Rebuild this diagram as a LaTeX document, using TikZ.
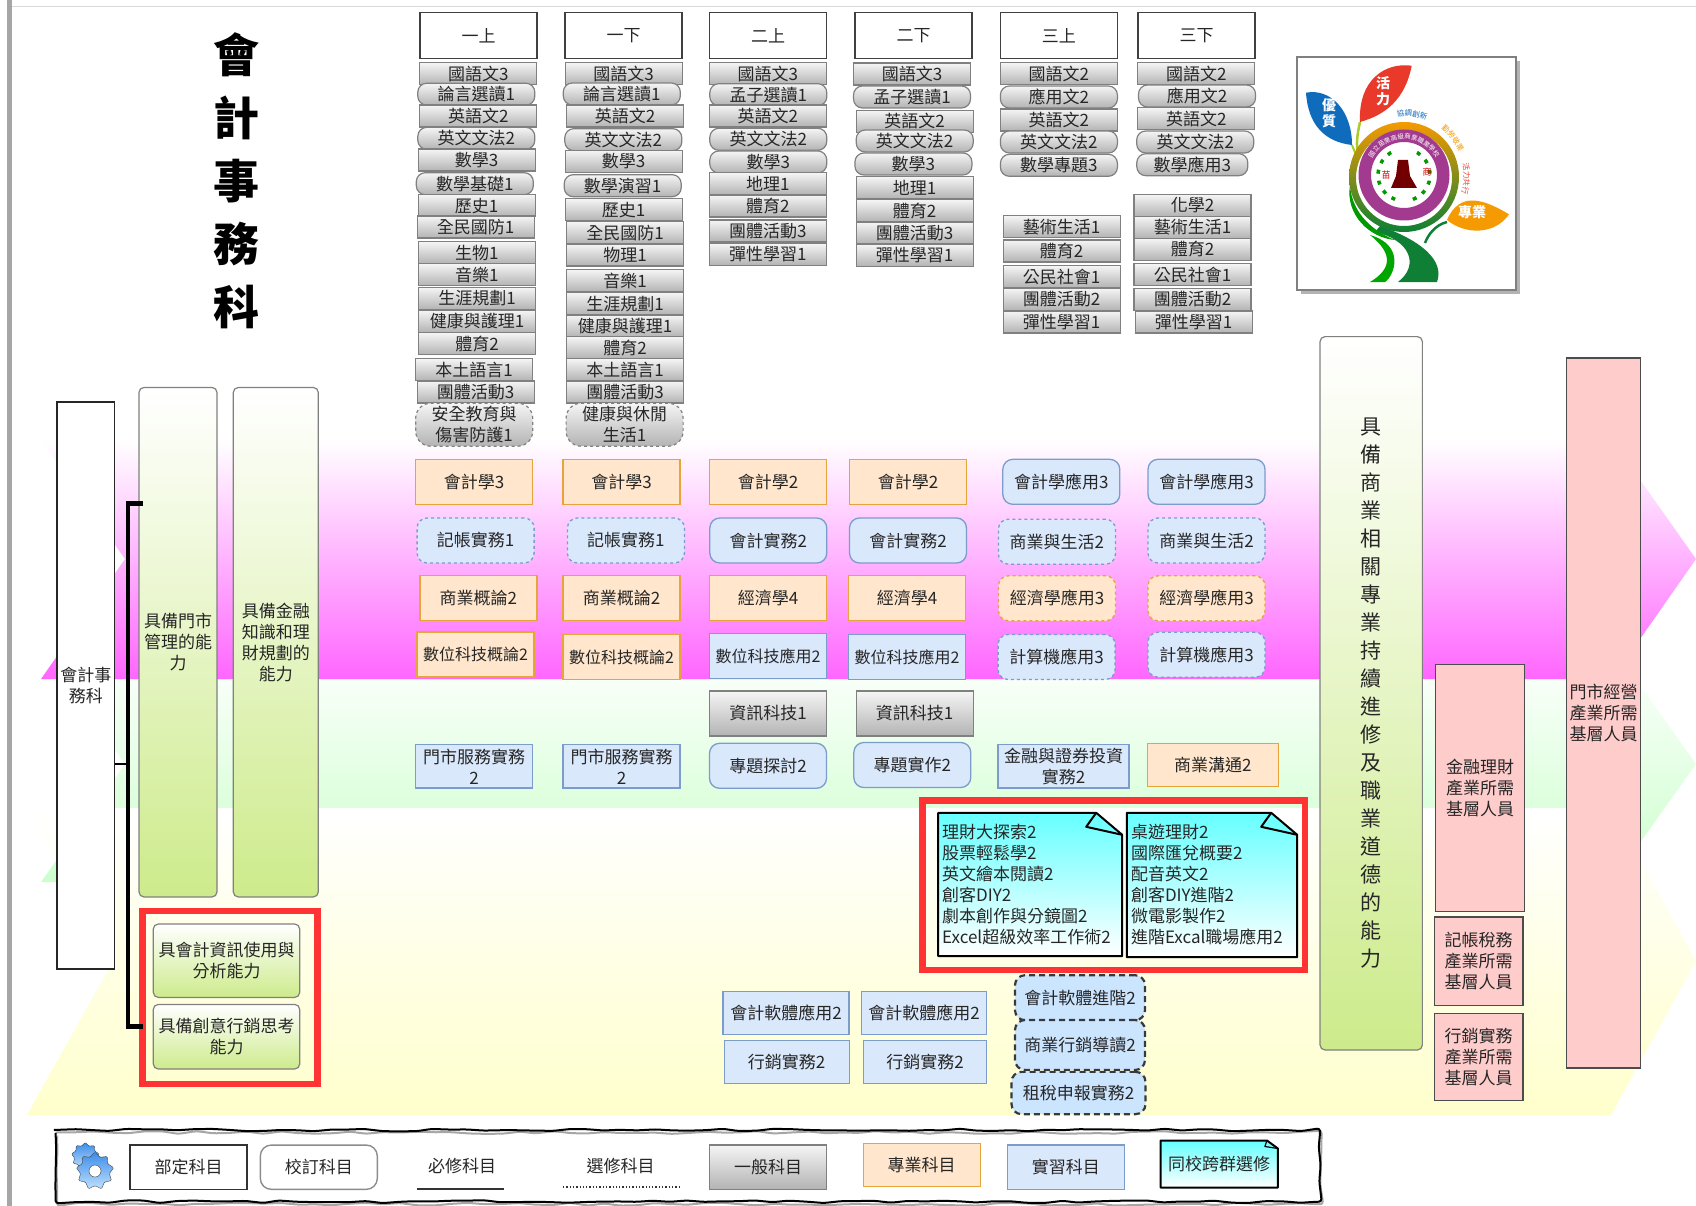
\documentclass[tikz,border=0pt]{standalone}
\usepackage{fontspec}
\setmainfont{Noto Sans CJK TC}
\usepackage{tikz}
\usetikzlibrary{calc}
\usetikzlibrary{shadows}
\usetikzlibrary{shapes.geometric}
\usetikzlibrary{decorations.pathmorphing}
\usetikzlibrary{decorations.text}
\definecolor{grayline}{HTML}{808080}
\definecolor{graytop}{HTML}{F5F5F5}
\definecolor{graybot}{HTML}{B3B3B3}
\definecolor{specfill}{HTML}{FFE6CC}
\definecolor{specline}{HTML}{E6A43A}
\definecolor{pracfill}{HTML}{DAE8FC}
\definecolor{pracline}{HTML}{7C9CCB}
\definecolor{heavyfill}{HTML}{CCE5FF}
\definecolor{heavyline}{HTML}{36393D}
\definecolor{abilitybot}{HTML}{CDEB8B}
\definecolor{pinkfill}{HTML}{FFCCCC}
\definecolor{notetop}{HTML}{66FFFF}
\definecolor{redline}{HTML}{FF3333}
\definecolor{bandpink}{HTML}{FF66FF}
\definecolor{logoblue}{HTML}{0F6CBD}
\definecolor{logored}{HTML}{E8392A}
\definecolor{logoorange}{HTML}{F59A00}
\definecolor{logopurple}{HTML}{A23B8F}
\definecolor{logogreen}{HTML}{0E7F35}
\definecolor{gearblue}{HTML}{3C8CE8}
\definecolor{gearpale}{HTML}{BFE0FF}
\newcommand{\subjfont}{\fontsize{17}{21}\selectfont}
\newcommand{\logotiny}{\fontsize{7.5}{8}\selectfont}
\tikzset{subject/.style={inner sep=0, minimum width=117pt, minimum height=22pt, align=center, font=\subjfont, text=black!85}}
\tikzset{tall/.style={minimum height=45pt}}
\tikzset{term/.style={subject, draw=black!75, line width=1.3pt, minimum height=46pt}}
\tikzset{general/.style={subject, draw=grayline, line width=1.2pt, top color=graytop, bottom color=graybot}}
\tikzset{generalpill/.style={general, rounded corners=9pt}}
\tikzset{generaldash/.style={generalpill, rounded corners=15pt, dashed, minimum height=43pt}}
\tikzset{special/.style={subject, tall, draw=specline, line width=1.3pt, fill=specfill}}
\tikzset{specialdash/.style={special, rounded corners=10pt, dashed}}
\tikzset{practice/.style={subject, tall, draw=pracline, line width=1.3pt, fill=pracfill}}
\tikzset{practicepill/.style={practice, rounded corners=10pt}}
\tikzset{practicedash/.style={practicepill, dashed}}
\tikzset{heavydash/.style={subject, draw=heavyline, line width=2.2pt, dash pattern=on 6pt off 4pt, fill=heavyfill, rounded corners=10pt, minimum width=130pt}}
\tikzset{ability/.style={subject, draw=grayline, line width=1.2pt, top color=white, bottom color=abilitybot, rounded corners=5pt}}
\tikzset{market/.style={subject, draw=black!70, line width=1.2pt, fill=pinkfill}}
\tikzset{redframe/.style={inner sep=0, draw=redline, line width=6.5pt}}
\tikzset{note/.style={subject, align=left, draw=none, top color=notetop, bottom color=white}}
\tikzset{notefold/.style={draw=black, line width=2pt, line join=round}}
\tikzset{gear/.style={inner sep=0, star, star points=9, star point ratio=1.3, draw=black!75, top color=gearblue, bottom color=gearpale, rounded corners=1pt}}
\tikzset{tornedge/.style={decorate, decoration={random steps, segment length=17pt, amplitude=1.4pt}, rounded corners=3pt, line width=2pt}}
\pgfmathsetseed{7}

\begin{document}
\begin{tikzpicture}[x=1pt, y=-1pt]
  \useasboundingbox (0, 0) rectangle (1696, 1206);

  % bands behind the plan
  \shade[top color=white, bottom color=green!20] (41, 646) -- (1612, 646) -- (1696, 764) -- (1612, 882) -- (41, 882) -- (125, 764) -- cycle;
  \shade[top color=white, bottom color=yellow!20] (27, 808) -- (1612, 808) -- (1696, 961) -- (1611, 1115) -- (27, 1115) -- (113, 961) -- cycle;
  \shade[top color=white, bottom color=bandpink] (41, 440) -- (1612, 440) -- (1696, 559) -- (1612, 679) -- (41, 679) -- (125, 559) -- cycle;
  \fill[black!35] (7.3, 0) rectangle (12, 1206);
  \fill[black!15] (12, 6.5) rectangle (1696, 7.5);

  \node[inner sep=0, font=\fontsize{46}{63}\selectfont\bfseries, align=center] at (236, 181) (title) {會\\計\\事\\務\\科};

  % terms
  \node[term] at (478.5, 35.7) (oneup) {一上};
  \node[term] at (623.5, 35.7) (onedown) {一下};
  \node[term] at (768, 35.7) (twoup) {二上};
  \node[term] at (913.5, 35.7) (twodown) {二下};
  \node[term] at (1058.8, 35.7) (threeup) {三上};
  \node[term] at (1196.5, 35.7) (threedown) {三下};

  % column one up
  \node[general] at (478.3, 73.8) (oneupa) {國語文3};
  \node[generalpill] at (476.3, 94.2) (oneupb) {論言選讀1};
  \node[general] at (478.3, 116) (oneupc) {英語文2};
  \node[generalpill] at (476.3, 138.3) (oneupd) {英文文法2};
  \node[general] at (476.7, 160) (oneupe) {數學3};
  \node[generalpill] at (474.8, 183.7) (oneupf) {數學基礎1};
  \node[general] at (476.7, 205.7) (oneupg) {歷史1};
  \node[general] at (475.6, 227) (oneuph) {全民國防1};
  \node[general] at (476.9, 252.7) (oneupi) {生物1};
  \node[general] at (476.9, 274.7) (oneupj) {音樂1};
  \node[general] at (477.1, 298.3) (oneupk) {生涯規劃1};
  \node[general] at (477.1, 321.3) (oneupl) {健康與護理1};
  \node[general] at (477, 343.7) (oneupm) {體育2};
  \node[general] at (474, 369.7) (oneupn) {本土語言1};
  \node[general] at (475.6, 392) (oneupo) {團體活動3};
  \node[generaldash] at (474.2, 424.7) (oneupp) {安全教育與\\傷害防護1};

  % column one down
  \node[general] at (623.7, 73.8) (onedowna) {國語文3};
  \node[generalpill] at (621.8, 94) (onedownb) {論言選讀1};
  \node[general] at (625.2, 116) (onedownc) {英語文2};
  \node[generalpill] at (623.3, 139.7) (onedownd) {英文文法2};
  \node[general] at (623.7, 161.3) (onedowne) {數學3};
  \node[generalpill] at (622.7, 185.7) (onedownf) {數學演習1};
  \node[general] at (623.7, 209.7) (onedowng) {歷史1};
  \node[general] at (625.2, 232.7) (onedownh) {全民國防1};
  \node[general] at (625.2, 255) (onedowni) {物理1};
  \node[general] at (625.2, 280.7) (onedownj) {音樂1};
  \node[general] at (625.2, 303.7) (onedownk) {生涯規劃1};
  \node[general] at (625.2, 326) (onedownl) {健康與護理1};
  \node[general] at (625.2, 347.7) (onedownm) {體育2};
  \node[general] at (625.2, 369.7) (onedownn) {本土語言1};
  \node[general] at (625.2, 392) (onedowno) {團體活動3};
  \node[generaldash] at (624.6, 424.7) (onedownp) {健康與休閒\\生活1};

  % column two up
  \node[general] at (767.8, 73.7) (twoupa) {國語文3};
  \node[generalpill] at (768.3, 94.7) (twoupb) {孟子選讀1};
  \node[general] at (767.8, 116) (twoupc) {英語文2};
  \node[generalpill] at (768.3, 139.3) (twoupd) {英文文法2};
  \node[generalpill] at (768.3, 162) (twoupe) {數學3};
  \node[general] at (767.8, 183.7) (twoupf) {地理1};
  \node[general] at (767.8, 206) (twoupg) {體育2};
  \node[general] at (767.8, 231) (twouph) {團體活動3};
  \node[general] at (767.8, 254.3) (twoupi) {彈性學習1};

  % column two down
  \node[general] at (912, 74) (twodowna) {國語文3};
  \node[generalpill] at (912, 97) (twodownb) {孟子選讀1};
  \node[general] at (914.7, 121.3) (twodownc) {英語文2};
  \node[generalpill] at (914.7, 141) (twodownd) {英文文法2};
  \node[generalpill] at (913.4, 164) (twodowne) {數學3};
  \node[general] at (914.7, 187.7) (twodownf) {地理1};
  \node[general] at (914.7, 210.7) (twodowng) {體育2};
  \node[general] at (914.7, 233) (twodownh) {團體活動3};
  \node[general] at (914.7, 255.3) (twodowni) {彈性學習1};

  % column three up
  \node[general] at (1058.9, 73.7) (threeupa) {國語文2};
  \node[generalpill] at (1058.9, 97) (threeupb) {應用文2};
  \node[general] at (1058.9, 120) (threeupc) {英語文2};
  \node[generalpill] at (1058.9, 142) (threeupd) {英文文法2};
  \node[generalpill] at (1058.9, 165.3) (threeupe) {數學專題3};
  \node[general] at (1061.6, 226.7) (threeupf) {藝術生活1};
  \node[general] at (1061.6, 251) (threeupg) {體育2};
  \node[general] at (1061.6, 276.7) (threeuph) {公民社會1};
  \node[general] at (1061.6, 299.3) (threeupi) {團體活動2};
  \node[general] at (1061.6, 322) (threeupj) {彈性學習1};

  % column three down
  \node[general] at (1196.3, 73.7) (threedowna) {國語文2};
  \node[generalpill] at (1197, 96) (threedownb) {應用文2};
  \node[general] at (1196.3, 118.7) (threedownc) {英語文2};
  \node[generalpill] at (1195.2, 142) (threedownd) {英文文法2};
  \node[generalpill, minimum width=111pt] at (1192.3, 164.7) (threedowne) {數學應用3};
  \node[general] at (1192.5, 205.3) (threedownf) {化學2};
  \node[general] at (1192.5, 227.3) (threedowng) {藝術生活1};
  \node[general] at (1192.5, 249.3) (threedownh) {體育2};
  \node[general] at (1192.5, 274.7) (threedowni) {公民社會1};
  \node[general] at (1192.5, 299.3) (threedownj) {團體活動2};
  \node[general] at (1193.6, 322) (threedownk) {彈性學習1};

  % logo
  \node[inner sep=0, minimum width=219pt, minimum height=233pt, draw=black!50, line width=1.2pt, fill=white, drop shadow={shadow xshift=4pt, shadow yshift=-4pt, opacity=.6}] at (1406.5, 173.5) (logoframe) {};
  \fill[logoblue] (1306, 92.7) .. controls (1330, 88) and (1352, 110) .. (1352, 145) .. controls (1325, 142) and (1308, 125) .. (1306, 92.7);
  \fill[logored] (1411.7, 65.7) .. controls (1385, 62) and (1358, 80) .. (1360, 122) .. controls (1385, 115) and (1405, 100) .. (1411.7, 65.7);
  \fill[logoorange] (1509, 214.3) .. controls (1485, 200) and (1460, 190) .. (1447, 220) .. controls (1465, 235) and (1495, 235) .. (1509, 214.3);
  \draw[line width=2.5pt, logogreen] (1447, 222) .. controls (1435, 225) and (1428, 235) .. (1425, 243);
  \draw[line width=2pt, yellow!70!green!90!black] (1352, 145) -- (1358, 160);
  \draw[line width=2.5pt, yellow!70!green!90!black] (1360, 122) .. controls (1357, 135) and (1356, 145) .. (1358, 155);
  \fill[logogreen] (1380, 226) .. controls (1420, 240) and (1445, 260) .. (1437, 282) -- (1398, 282) .. controls (1420, 265) and (1410, 240) .. (1375, 232) -- cycle;
  \fill[green!65!black] (1370, 282) .. controls (1390, 270) and (1395, 255) .. (1370, 235) .. controls (1405, 245) and (1395, 275) .. (1385, 282) -- cycle;
  \fill[green!60!black] (1350, 185) .. controls (1352, 215) and (1375, 232) .. (1395, 240) .. controls (1370, 238) and (1345, 215) .. (1350, 185);
  \shade[even odd rule, top color=logoorange, middle color=yellow!60!green, bottom color=logogreen] (1404, 177) circle[radius=55] (1404, 178) circle[radius=48];
  \fill[even odd rule, logopurple] (1404, 175) circle[radius=45.5] (1404, 175) circle[radius=33];
  \draw[line width=3.5pt, green!60!black, dash pattern=on 4pt off 7pt] (1404, 175) ++(110:26) arc[start angle=110, end angle=250, radius=26];
  \draw[line width=3.5pt, green!60!black, dash pattern=on 4pt off 7pt] (1404, 175) ++(70:26) arc[start angle=70, end angle=-70, radius=26];
  \fill[red!45!black] (1398, 160) -- (1408, 160) -- (1410, 176) -- (1417, 188) -- (1391, 188) -- (1396, 176) -- cycle;
  \node[inner sep=0, font=\fontsize{9}{9}\selectfont, text=red!80!black] at (1386, 175) (logomiao) {苗};
  \node[inner sep=0, font=\fontsize{9}{9}\selectfont, text=red!80!black] at (1427, 172) (logoshang) {商};
  \path[decorate, decoration={text along path, text align=center, text={|\fontsize{6.5}{8}\selectfont\color{white}|國立苗栗高級商業職業學校}}] (1404, 175) ++(198:36) arc[start angle=198, end angle=342, radius=36];
  \path[decorate, decoration={text along path, text align=center, text={|\logotiny\color{logoblue}|協調創新}}] (1404, 176) ++(255:60) arc[start angle=255, end angle=300, radius=60];
  \path[decorate, decoration={text along path, text align=center, text={|\logotiny\color{logoorange}|勤勞敬業}}] (1404, 176) ++(303:60) arc[start angle=303, end angle=342, radius=60];
  \path[decorate, decoration={text along path, text align=center, text={|\logotiny\color{logored}|活力共行}}] (1404, 176) ++(345:60) arc[start angle=345, end angle=380, radius=60];
  \node[inner sep=0, align=center, font=\fontsize{14}{16}\selectfont\bfseries, text=white] at (1383, 91) (logovital) {活\\力};
  \node[inner sep=0, align=center, font=\fontsize{14}{16}\selectfont\bfseries, text=white] at (1329, 113) (logoquality) {優\\質};
  \node[inner sep=0, font=\fontsize{14}{16}\selectfont\bfseries, text=white] at (1472, 212) (logopro) {專業};

  % department and abilities
  \node[subject, draw=black!85, line width=1.2pt, fill=white, minimum width=57.7pt, minimum height=567pt] at (85.8, 685.5) (dept) {會計事\\務科};
  \node[ability, minimum width=78pt, minimum height=509.5pt] at (178, 642.2) (storeskill) {具備門市\\管理的能\\力};
  \node[ability, minimum width=85pt, minimum height=509.5pt] at (275.8, 642.2) (financeskill) {具備金融\\知識和理\\財規劃的\\能力};
  \node[ability, minimum width=146.4pt, minimum height=73.4pt] at (226.5, 960.7) (infoskill) {具會計資訊使用與\\分析能力};
  \node[ability, minimum width=146.4pt, minimum height=64.6pt] at (226.5, 1036.7) (marketskill) {具備創意行銷思考\\能力};
  \node[redframe, minimum width=175pt, minimum height=173pt] at (230, 997.4) (redskill) {};

  \coordinate (bustop) at (128, 503.5);
  \coordinate (busmid) at (128, 764);
  \coordinate (busbot) at (128, 1026.6);
  \coordinate (tickup) at (143, 503.5);
  \coordinate (tickdown) at (143, 1026.6);
  \draw[line width=4.5pt] (tickup) -- (bustop) -- (busbot) -- (tickdown);
  \draw[line width=1.5pt] (dept.east |- busmid) -- (busmid);

  % row accounting
  \node[special] at (474, 481.8) (acca) {會計學3};
  \node[special] at (621.6, 481.8) (accb) {會計學3};
  \node[special] at (768, 481.8) (accc) {會計學2};
  \node[special] at (908, 481.8) (accd) {會計學2};
  \node[practicepill] at (1061.3, 481.8) (acce) {會計學應用3};
  \node[practicepill] at (1206.5, 481.8) (accf) {會計學應用3};

  % row bookkeeping
  \node[practicedash] at (475.6, 540.5) (booka) {記帳實務1};
  \node[practicedash] at (625.9, 540.5) (bookb) {記帳實務1};
  \node[practicepill] at (768.3, 540.5) (bookc) {會計實務2};
  \node[practicepill] at (908, 540.5) (bookd) {會計實務2};
  \node[practicedash] at (1056.9, 541.7) (booke) {商業與生活2};
  \node[practicedash] at (1206.5, 540.5) (bookf) {商業與生活2};

  % row economics
  \node[special] at (478.4, 598.3) (econa) {商業概論2};
  \node[special] at (621.6, 598.3) (econb) {商業概論2};
  \node[special] at (768, 598.3) (econc) {經濟學4};
  \node[special] at (907, 598.3) (econd) {經濟學4};
  \node[specialdash] at (1057, 598.3) (econe) {經濟學應用3};
  \node[specialdash] at (1206.5, 598.3) (econf) {經濟學應用3};

  % row digital
  \node[special, font=\fontsize{16}{20}\selectfont] at (475.6, 654.5) (diga) {數位科技概論2};
  \node[special, font=\fontsize{16}{20}\selectfont] at (621.6, 657.2) (digb) {數位科技概論2};
  \node[practice, font=\fontsize{16}{20}\selectfont] at (768, 656) (digc) {數位科技應用2};
  \node[practice, font=\fontsize{16}{20}\selectfont] at (907, 657.2) (digd) {數位科技應用2};
  \node[practicedash] at (1056.6, 657) (dige) {計算機應用3};
  \node[practicedash] at (1206.5, 654.7) (digf) {計算機應用3};

  % row practice
  \node[general, tall] at (768, 713.5) (itc) {資訊科技1};
  \node[general, tall] at (914.6, 713.5) (itd) {資訊科技1};
  \node[practice, minimum height=43.5pt] at (474, 766.3) (praca) {門市服務實務\\2};
  \node[practice, minimum height=43.5pt] at (621.6, 766.3) (pracb) {門市服務實務\\2};
  \node[practicepill] at (768, 765.8) (pracc) {專題探討2};
  \node[practicepill] at (912.3, 765) (pracd) {專題實作2};
  \node[practice, minimum width=131pt, minimum height=43.5pt] at (1063.6, 766.3) (prace) {金融與證券投資\\實務2};
  \node[special, minimum width=131pt, minimum height=43.5pt] at (1212.9, 765) (pracf) {商業溝通2};

  % electives
  \node[note, minimum width=183.6pt, minimum height=143pt, text width=176pt] at (1030.2, 884.5) (electa) {理財大探索2\\股票輕鬆學2\\英文繪本閱讀2\\創客DIY2\\劇本創作與分鏡圖2\\Excel超級效率工作術2};
  \fill[white] ($(electa.north east)+(-26, -1)$) -- ($(electa.north east)+(1, -1)$) -- ($(electa.north east)+(1, 22)$) -- cycle;
  \draw[notefold] (electa.north west) -- ($(electa.north east)+(-26, 0)$) -- ($(electa.north east)+(0, 22)$) -- (electa.south east) -- (electa.south west) -- cycle;
  \draw[notefold] ($(electa.north east)+(-26, 0)$) -- ($(electa.north east)+(-36, 14)$) -- ($(electa.north east)+(0, 22)$);
  \node[note, minimum width=170pt, minimum height=144pt, text width=162pt] at (1212, 885) (electb) {桌遊理財2\\國際匯兌概要2\\配音英文2\\創客DIY進階2\\微電影製作2\\進階Excal職場應用2};
  \fill[white] ($(electb.north east)+(-26, -1)$) -- ($(electb.north east)+(1, -1)$) -- ($(electb.north east)+(1, 22)$) -- cycle;
  \draw[notefold] (electb.north west) -- ($(electb.north east)+(-26, 0)$) -- ($(electb.north east)+(0, 22)$) -- (electb.south east) -- (electb.south west) -- cycle;
  \draw[notefold] ($(electb.north east)+(-26, 0)$) -- ($(electb.north east)+(-36, 14)$) -- ($(electb.north east)+(0, 22)$);
  \node[redframe, minimum width=382.5pt, minimum height=169.5pt] at (1113.5, 885) (rednotes) {};

  % software and marketing
  \node[practice, minimum width=126pt, minimum height=43pt] at (786, 1012.7) (softa) {會計軟體應用2};
  \node[practice, minimum width=125pt, minimum height=43pt] at (924, 1012.7) (softb) {會計軟體應用2};
  \node[practice, minimum width=125pt, minimum height=43pt] at (786.7, 1062) (marka) {行銷實務2};
  \node[practice, minimum width=123pt, minimum height=43pt] at (925, 1062) (markb) {行銷實務2};
  \node[heavydash, minimum height=45pt] at (1080, 997.7) (softc) {會計軟體進階2};
  \node[heavydash, minimum height=50pt] at (1080, 1045) (markc) {商業行銷導讀2};
  \node[heavydash, minimum width=134pt, minimum height=42.3pt] at (1078.5, 1093) (taxc) {租稅申報實務2};

  % right side
  \node[ability, font=\fontsize{21}{28}\selectfont, minimum width=102.3pt, minimum height=713.4pt] at (1371.2, 693.3) (careerskill) {具\\備\\商\\業\\相\\關\\專\\業\\持\\續\\進\\修\\及\\職\\業\\道\\德\\的\\能\\力};
  \node[market, minimum width=88.6pt, minimum height=246.9pt] at (1480, 788.2) (jobfin) {金融理財\\產業所需\\基層人員};
  \node[market, minimum width=88.6pt, minimum height=88.5pt] at (1478.7, 961.2) (jobbook) {記帳稅務\\產業所需\\基層人員};
  \node[market, minimum width=88.6pt, minimum height=86.7pt] at (1478.7, 1057) (jobmark) {行銷實務\\產業所需\\基層人員};
  \node[market, minimum width=73.6pt, minimum height=710pt] at (1603.5, 713) (jobstore) {門市經營\\產業所需\\基層人員};

  % legend
  \draw[tornedge, black!35, xshift=1.5pt, yshift=-2.5pt] (55.6, 1130) rectangle (1320, 1201.7);
  \draw[tornedge] (55.6, 1130) rectangle (1320, 1201.7);
  \node[gear, minimum size=28pt] at (85.3, 1156.3) (gearback) {};
  \node[gear, minimum size=38pt] at (95, 1171) (gearfront) {};
  \node[inner sep=0, circle, draw=black!75, fill=white, minimum size=12pt] at (95, 1171) (gearhole) {};
  \node[subject, draw=black!80, line width=1.2pt, minimum height=44.3pt] at (188.5, 1167.2) (legfixed) {部定科目};
  \node[subject, draw=black!45, line width=1.4pt, rounded corners=11pt, minimum height=44.3pt] at (318.8, 1167.2) (legschool) {校訂科目};
  \node[subject, minimum width=87pt] at (462, 1166) (legreq) {必修科目};
  \coordinate (legreql) at (417, 1189);
  \coordinate (legreqr) at (504, 1189);
  \draw[line width=1.2pt, black!80] (legreql) -- (legreqr);
  \node[subject] at (620.5, 1166) (legopt) {選修科目};
  \coordinate (legoptl) at (563, 1187);
  \coordinate (legoptr) at (681, 1187);
  \draw[line width=1.3pt, black!80, dotted] (legoptl) -- (legoptr);
  \node[general, minimum height=44.3pt] at (768, 1167.2) (leggeneral) {一般科目};
  \node[special, minimum height=43.4pt] at (921.7, 1165) (legspecial) {專業科目};
  \node[practice, minimum height=44.3pt] at (1065.8, 1167.2) (legpractice) {實習科目};
  \node[note, minimum width=117pt, minimum height=46.6pt, align=center] at (1219.2, 1164) (legelect) {同校跨群選修};
  \fill[white] ($(legelect.north east)+(-11, -1)$) -- ($(legelect.north east)+(1, -1)$) -- ($(legelect.north east)+(1, 8)$) -- cycle;
  \draw[notefold] (legelect.north west) -- ($(legelect.north east)+(-11, 0)$) -- ($(legelect.north east)+(0, 8)$) -- (legelect.south east) -- (legelect.south west) -- cycle;
  \draw[notefold, line width=1.2pt] ($(legelect.north east)+(-11, 0)$) -- ($(legelect.north east)+(-13, 6)$) -- ($(legelect.north east)+(0, 8)$);
\end{tikzpicture}
\end{document}
